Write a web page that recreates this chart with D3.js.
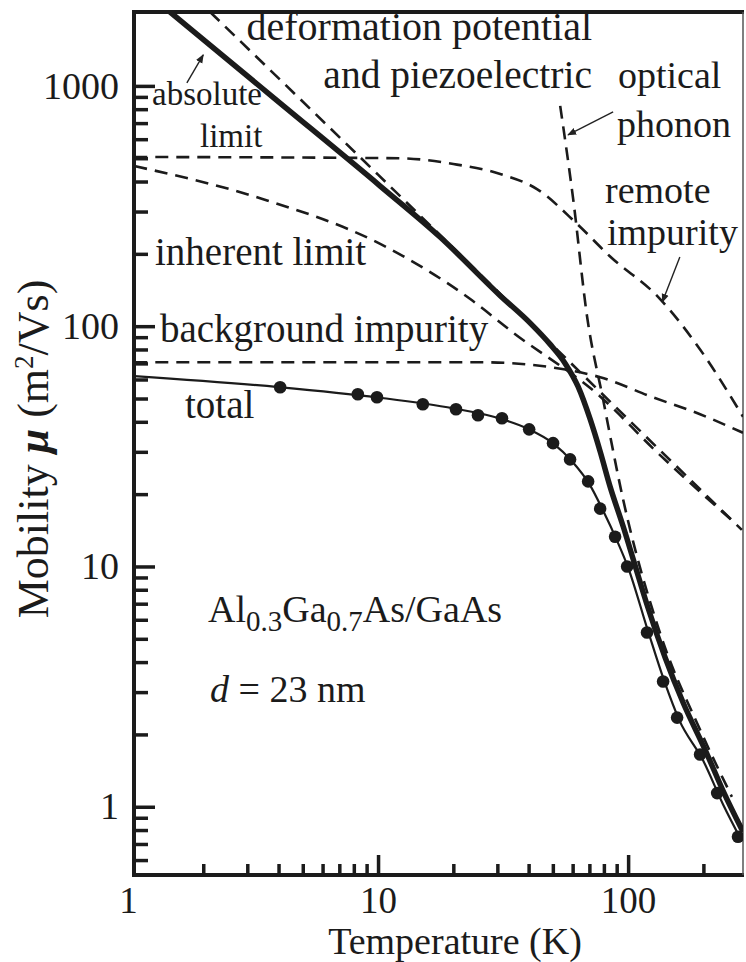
<!DOCTYPE html>
<html>
<head>
<meta charset="utf-8">
<script src="https://cdn.jsdelivr.net/npm/d3@7"></script>
<style>
  body { margin: 0; background: #fff; }
  text { font-family: "Liberation Serif", "Times New Roman", serif; fill: #1b1b1b; }
</style>
</head>
<body>
<div id="chart"></div>
<script>
// values, [temperature (K), mobility (m^2/Vs)]
const measured = [[4.06,55.7],[8.3,52.1],[9.9,50.6],[15.1,47.3],[20.5,45.1],[25.1,42.6],[31.3,41.4],
  [40.2,37.2],[50.1,32.6],[58.6,27.9],[69.2,22.6],[77.3,17.4],[88.7,13.3],[99.1,10.0],
  [119,5.31],[138,3.32],[157,2.35],[194,1.65],[227,1.14],[275,0.75]];
const total = [[1.06,62],[4,55.8],[10,50.5],[20,45.5],[30,41.6],[40,37.3],[50,32.6],[60,27.2],
  [70,22],[80,16.8],[90,12.9],[100,9.9],[120,5.4],[140,3.3],[160,2.3],[200,1.55],[240,1.02],[285,0.72]];
const absoluteLimit = [[1.47,2034],[3.87,883],[10.2,383],[17.7,235],[30.8,134],[40.6,103],[48.8,84],
  [56,70],[63.1,56],[70.5,41],[77.3,30.1],[84.7,21.5],[95.5,14.7],[105.7,10.4],[120,6.75],
  [140.6,4.18],[166,2.71],[203,1.73],[242,1.14],[288,0.787]];
const deformation = [[2.13,2030],[10,427],[30,140],[100,41],[285,14.2]];
const inherent = [[1.06,464],[3.4,340],[10.2,220],[23.3,130],[34.7,94],[77.3,51],[130,30],[263,15.4]];
const remote = [[1.06,506],[12.2,500],[20,473],[30.8,430],[43.2,372],[62.6,266],[84.3,196],
  [134,130],[194,80],[288,42]];
const background = [[1.06,70.8],[25.5,70.8],[50,67.3],[77.3,61.3],[125,50.7],[194,43],[288,36]];
const optical = [[53.5,826],[60.3,338],[68.5,110],[79.4,49.6],[95.5,19],[134,5.3],[194,2.09],[260,1.1]];

const xMajor = [1, 10, 100];
const yMajor = [1, 10, 100, 1000];

const [width, height] = [746, 962];
const plot = {left: 134, right: 743, top: 12, bottom: 875};

const svg = d3.select("#chart").append("svg")
  .attr("width", width).attr("height", height);

const x = d3.scaleLog().domain([1.057, 288]).range([plot.left, plot.right]);
const y = d3.scaleLog().domain([0.52, 2030]).range([plot.bottom, plot.top]);

const inX = d => d >= x.domain()[0] && d <= x.domain()[1];
const xMinor = xMajor.flatMap(d => d3.range(2, 10).map(k => k * d)).filter(inX);
const yMinor = [0.1, 1, 10, 100, 1000].flatMap(d => d3.range(2, 10).map(k => +(k * d).toPrecision(3)))
  .filter(d => d > 0.55 && d < 1900);

const defs = svg.append("defs");
defs.append("clipPath").attr("id", "clip")
  .append("rect").attr("x", plot.left).attr("y", plot.top)
  .attr("width", plot.right - plot.left).attr("height", plot.bottom - plot.top);
defs.append("marker").attr("id", "head").attr("viewBox", "0 0 10 10")
  .attr("refX", 9).attr("refY", 5).attr("markerWidth", 9).attr("markerHeight", 9)
  .attr("markerUnits", "userSpaceOnUse").attr("orient", "auto")
  .append("path").attr("d", "M0,1 L10,5 L0,9 Z").attr("fill", "#222");

// ticks (pointing inwards)
function tickAxis(axis, size, values, tr) {
  const g = svg.append("g").attr("transform", tr)
    .call(axis.tickValues(values).tickSizeInner(-size).tickSizeOuter(0).tickFormat(""));
  g.select(".domain").remove();
  g.selectAll(".tick line").attr("stroke", "#1b1b1b").attr("stroke-width", 3.5);
}
tickAxis(d3.axisBottom(x), 20, xMajor.filter(inX), `translate(0,${plot.bottom})`);
tickAxis(d3.axisBottom(x), 11, xMinor, `translate(0,${plot.bottom})`);
tickAxis(d3.axisLeft(y), 21, yMajor, `translate(${plot.left},0)`);
tickAxis(d3.axisLeft(y), 14, yMinor, `translate(${plot.left},0)`);

// tick labels
const xLab = svg.append("g").attr("transform", `translate(0,${plot.bottom})`)
  .call(d3.axisBottom(x).tickValues(xMajor).tickSize(0).tickPadding(12).tickFormat(d3.format("d")));
xLab.select(".domain").remove();
xLab.selectAll("text").style("font-size", "37px");

const yLab = svg.append("g").attr("transform", `translate(${plot.left},0)`)
  .call(d3.axisLeft(y).tickValues(yMajor).tickSize(0).tickPadding(15).tickFormat(d3.format("d")));
yLab.select(".domain").remove();
yLab.selectAll("text").style("font-size", "38px");

// frame
const frame = svg.append("g").attr("stroke", "#1b1b1b");
frame.append("line").attr("x1", plot.left).attr("x2", plot.left).attr("y1", plot.top - 2).attr("y2", plot.bottom + 2).attr("stroke-width", 4);
frame.append("line").attr("x1", plot.left - 2).attr("x2", plot.right + 1).attr("y1", plot.bottom).attr("y2", plot.bottom).attr("stroke-width", 4);
frame.append("line").attr("x1", plot.left - 2).attr("x2", plot.right + 1).attr("y1", plot.top).attr("y2", plot.top).attr("stroke-width", 4);
frame.append("line").attr("x1", plot.right).attr("x2", plot.right).attr("y1", plot.top).attr("y2", plot.bottom).attr("stroke-width", 1.5).attr("stroke", "#555");

// curves
const line = d3.line().x(d => x(d[0])).y(d => y(d[1])).curve(d3.curveMonotoneX);
const curves = svg.append("g").attr("clip-path", "url(#clip)").attr("fill", "none").attr("stroke", "#1b1b1b");

[deformation, inherent, remote, background, optical].forEach(s => {
  curves.append("path").datum(s).attr("d", line)
    .attr("stroke-width", 2.6).attr("stroke-dasharray", "13,8");
});
curves.append("path").datum(absoluteLimit).attr("d", line).attr("stroke-width", 5.5);
curves.append("path").datum(total).attr("d", line).attr("stroke-width", 2.2);

svg.append("g").attr("clip-path", "url(#clip)").selectAll("circle")
  .data(measured).join("circle")
  .attr("cx", d => x(d[0])).attr("cy", d => y(d[1])).attr("r", 6.3)
  .attr("fill", "#1b1b1b");

// annotation arrows, tail and head in data space
const arrows = [
  [[1.72, 1029], [2.0, 1347]],
  [[87.1, 779], [57.5, 625]],
  [[161, 194], [137, 126]]
];
svg.append("g").selectAll("line").data(arrows).join("line")
  .attr("x1", d => x(d[0][0])).attr("y1", d => y(d[0][1]))
  .attr("x2", d => x(d[1][0])).attr("y2", d => y(d[1][1]))
  .attr("stroke", "#222").attr("stroke-width", 1.4).attr("marker-end", "url(#head)");

// labels
const labels = [
  ["deformation potential", 592, 40, 40, "end"],
  ["and piezoelectric", 592, 88, 39.5, "end"],
  ["optical", 618, 88, 38, "start"],
  ["phonon", 617, 137, 38, "start"],
  ["remote", 605, 203, 38, "start"],
  ["impurity", 607, 245, 38, "start"],
  ["absolute", 152, 105, 33, "start"],
  ["limit", 200, 147, 33, "start"],
  ["inherent limit", 155, 265, 39, "start"],
  ["background impurity", 160, 342, 39, "start"],
  ["total", 185, 418, 39, "start"]
];
svg.append("g").selectAll("text").data(labels).join("text")
  .attr("x", d => d[1]).attr("y", d => d[2])
  .attr("text-anchor", d => d[4])
  .style("font-size", d => d[3] + "px")
  .text(d => d[0]);

const mat = svg.append("text").attr("x", 208).attr("y", 622).style("font-size", "38px");
mat.append("tspan").text("Al");
mat.append("tspan").attr("dy", 9).style("font-size", "29px").text("0.3");
mat.append("tspan").attr("dy", -9).text("Ga");
mat.append("tspan").attr("dy", 9).style("font-size", "29px").text("0.7");
mat.append("tspan").attr("dy", -9).text("As/GaAs");

const dd = svg.append("text").attr("x", 210).attr("y", 702).style("font-size", "38px");
dd.append("tspan").style("font-style", "italic").text("d");
dd.append("tspan").text(" = 23 nm");

// axis titles
svg.append("text").attr("x", 455).attr("y", 954).attr("text-anchor", "middle")
  .style("font-size", "38px").text("Temperature (K)");

const yt = svg.append("text").attr("transform", "translate(48,449) rotate(-90)")
  .attr("text-anchor", "middle").style("font-size", "44px");
yt.append("tspan").text("Mobility ");
yt.append("tspan").style("font-style", "italic").style("font-weight", "bold").text("μ");
yt.append("tspan").text(" (m");
yt.append("tspan").attr("dy", -15).style("font-size", "27px").text("2");
yt.append("tspan").attr("dy", 15).text("/Vs)");
</script>
</body>
</html>
